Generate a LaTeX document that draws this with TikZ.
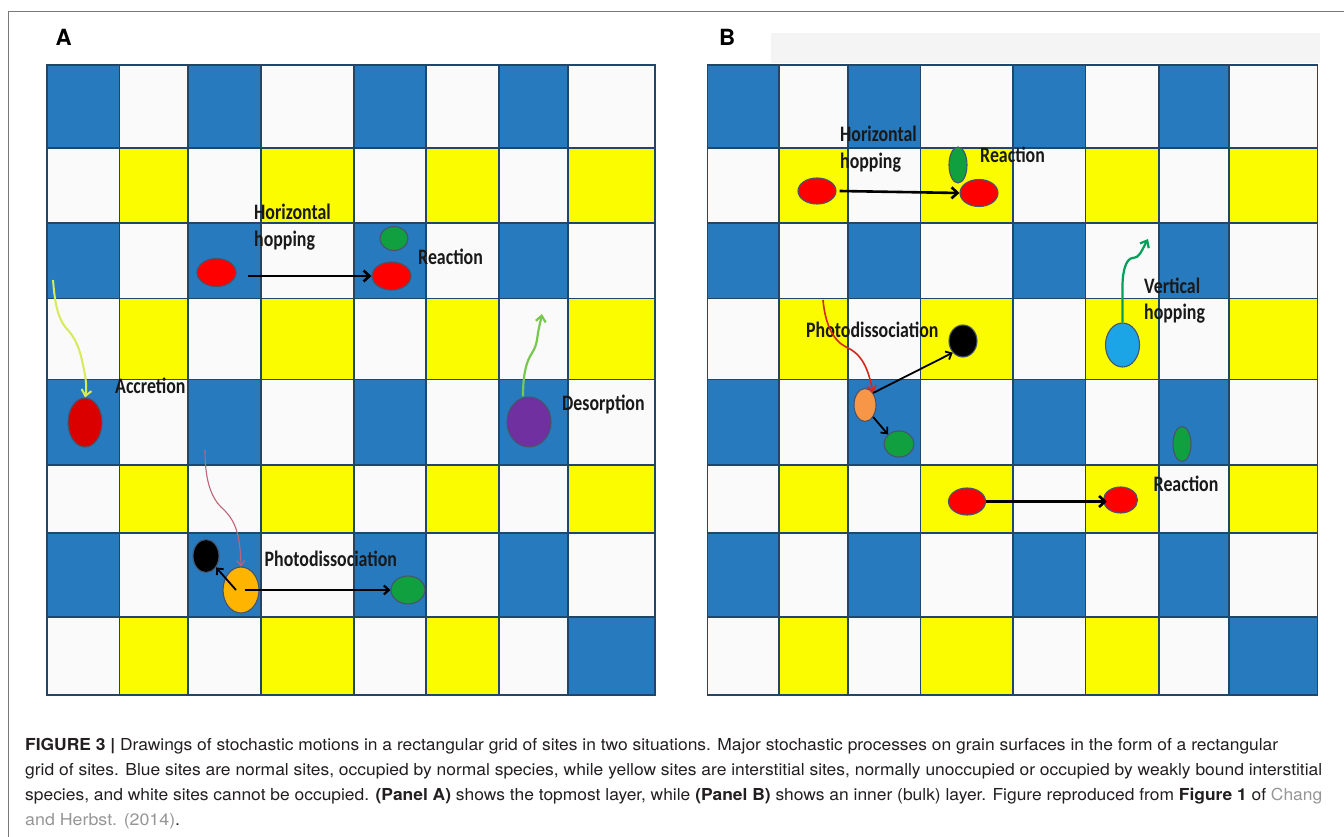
\documentclass[tikz,border=0pt]{standalone}
\usepackage{fontspec}
\usepackage{graphicx}
\setmainfont{TeX Gyre Heros}
\newfontfamily\calfont{Carlito}
\usetikzlibrary{arrows.meta,shapes.geometric,calc}
\definecolor{siteblue}{RGB}{40,122,190}
\definecolor{siteyellow}{RGB}{252,252,0}
\definecolor{sitewhite}{RGB}{250,250,250}
\definecolor{gridline}{RGB}{32,70,105}
\definecolor{molline}{RGB}{70,85,110}
\definecolor{molred}{RGB}{255,0,0}
\definecolor{accred}{RGB}{218,0,0}
\definecolor{molgreen}{RGB}{16,160,64}
\definecolor{molorangeA}{RGB}{255,180,0}
\definecolor{molorangeB}{RGB}{247,150,70}
\definecolor{molpurple}{RGB}{112,48,160}
\definecolor{molblue}{RGB}{28,165,230}
\definecolor{acccol}{RGB}{215,235,90}
\definecolor{descol}{RGB}{120,200,80}
\definecolor{vhcol}{RGB}{0,160,90}
\definecolor{pdAcol}{RGB}{190,100,120}
\definecolor{pdBcol}{RGB}{210,40,30}
\definecolor{framecol}{RGB}{120,120,120}
\definecolor{capgray}{RGB}{150,150,150}
\definecolor{captext}{RGB}{35,31,32}
\definecolor{topgray}{RGB}{244,244,244}
\newcommand\stretchlbl[1]{\scalebox{0.97}[1.2]{#1}}
\begin{document}
\begin{tikzpicture}[x=1pt,y=-1pt,
  site/.style={line width=1.6pt, draw=gridline},
  mol/.style={ellipse, inner sep=0pt, draw=molline, line width=1.1pt},
  lbl/.style={anchor=base west, inner sep=0pt, text=black!90, font=\calfont\bfseries\fontsize{18.4}{20}\selectfont},
  panel/.style={anchor=base west, inner sep=0pt, font=\bfseries\fontsize{22.3}{24}\selectfont},
  captxt/.style={anchor=base west, inner sep=0pt, text=captext, font=\fontsize{16.5}{18}\selectfont},
  hop/.style={line width=2.6pt, -{Straight Barb[length=6pt,width=11pt]}},
  pd/.style={line width=1.8pt, -{Straight Barb[length=5pt,width=9pt]}},
  accl/.style={line width=2pt, draw=acccol, -{Straight Barb[length=6pt,width=10pt]}},
  desl/.style={line width=2.2pt, draw=descol, -{Straight Barb[length=6pt,width=10pt]}},
  vhl/.style={line width=2.2pt, draw=vhcol, -{Straight Barb[length=6pt,width=10pt]}},
  pdAl/.style={line width=1.1pt, draw=pdAcol, -{Straight Barb[length=5pt,width=8pt]}},
  pdBl/.style={line width=1.6pt, draw=pdBcol, -{Straight Barb[length=6pt,width=9pt]}}
]
\useasboundingbox (0,0) rectangle (1344,837);
\fill[white] (0,0) rectangle (1344,837);
% frame
\draw[framecol, line width=1.5pt] (8.5,837) -- (8.5,11.5) -- (1344,11.5);
% light strip behind B
\fill[topgray] (771,33) rectangle (1320,63);
% panel letters
\node[panel] (labA) at (55.5,46) {A};
\node[panel] (labB) at (719,46) {B};
% grids
\foreach \cols in {{47/119.5,119.5/188,188/261,261/354,354/426,426/499,499/568,568/655},
                   {707.5/779,779/848,848/920.5,920.5/1013,1013/1085.5,1085.5/1159,1159/1229,1229/1317.5}}{
  \foreach \ya/\yb [count=\r] in {65/148,148/223,223/298.5,298.5/379.5,379.5/465,465/533,533/617,617/695}{
    \foreach \xa/\xb [count=\c] in \cols {
      \pgfmathtruncatemacro\kk{mod(\r,2)*10+mod(\c,2)}
      \ifnum\kk=11 \def\cc{siteblue}\else\ifnum\kk=0 \def\cc{siteyellow}\else\def\cc{sitewhite}\fi\fi
      \ifnum\r=8 \ifnum\c=8 \def\cc{siteblue}\fi\fi
      \filldraw[site, fill=\cc] (\xa,\ya) rectangle (\xb,\yb);
    }
  }
}
% ---------------- Panel A molecules
\node[mol, fill=molred, minimum width=39pt, minimum height=28pt] (redA1) at (216.5,272.5) {};
\node[mol, fill=molred, minimum width=39pt, minimum height=28pt] (redA2) at (391.5,276) {};
\node[mol, fill=molgreen, minimum width=28pt, minimum height=24pt] (greenA1) at (394,238.5) {};
\node[mol, fill=accred, minimum width=34pt, minimum height=49pt] (redAcc) at (85,422.5) {};
\node[mol, fill=molpurple, minimum width=44pt, minimum height=50pt] (purpleA) at (529,422) {};
\node[mol, fill=molorangeA, minimum width=36pt, minimum height=46pt] (orangeA) at (241,590) {};
\node[mol, fill=black, minimum width=26pt, minimum height=33pt] (blackA) at (206,556) {};
\node[mol, fill=molgreen, minimum width=34pt, minimum height=28pt] (greenA2) at (408,590) {};
% labels A
\node[lbl] (tHorA) at (254,220) {\stretchlbl{Horizontal}};
\node[lbl] (tHopA) at (254,247) {\stretchlbl{hopping}};
\node[lbl] (tReaA) at (418,265) {\stretchlbl{Reaction}};
\node[lbl] (tAccA) at (115,393) {\stretchlbl{Accretion}};
\node[lbl] (tDesA) at (562,410) {\stretchlbl{Desorption}};
\node[lbl] (tPhoA) at (264.5,566) {\stretchlbl{Photodissociation}};
% connectors A
\draw[hop] ([xshift=11pt]redA1.east |- redA2.west) -- (redA2.west);
\coordinate (accS) at (53,280);
\draw[accl] (accS) .. controls (55,305) and (58,318) .. (66,328)
  .. controls (76,338) and (80,350) .. (83,365)
  .. controls (86,378) and (87,388) .. (redAcc.north);
\coordinate (desE) at (542,314);
\draw[desl] ([xshift=-6pt]purpleA.north) .. controls (523,375) and (526,362) .. (532,353)
  .. controls (538,344) and (537,335) .. (539,328)
  .. controls (540,322) and (541,320) .. (desE);
\coordinate (pdAS) at (205,450);
\draw[pdAl] (pdAS) .. controls (205,478) and (210,496) .. (221,507)
  .. controls (234,519) and (240,530) .. (orangeA.north);
\draw[pd] ([xshift=-5pt]orangeA.center) -- (blackA);
\draw[pd, line width=2.2pt] ([xshift=4pt]orangeA.center) -- (greenA2.west);
% ---------------- Panel B molecules
\node[mol, fill=molred, minimum width=38pt, minimum height=26pt] (redB1) at (817,191) {};
\node[mol, fill=molred, minimum width=38pt, minimum height=27pt] (redB2) at (979,193) {};
\node[mol, fill=molgreen, minimum width=18pt, minimum height=36pt] (greenB1) at (958,165) {};
\node[mol, fill=molblue, minimum width=34pt, minimum height=44pt] (blueB) at (1122.5,345) {};
\node[mol, fill=black, minimum width=28pt, minimum height=32pt] (blackB) at (963,341) {};
\node[mol, fill=molorangeB, minimum width=22pt, minimum height=33pt] (orangeB) at (865,405) {};
\node[mol, fill=molgreen, minimum width=30pt, minimum height=26pt] (greenB2) at (899,444) {};
\node[mol, fill=molgreen, minimum width=18pt, minimum height=35pt] (greenB3) at (1182,444) {};
\node[mol, fill=molred, minimum width=37pt, minimum height=27pt] (redB3) at (967,501.5) {};
\node[mol, fill=molred, minimum width=34pt, minimum height=26pt] (redB4) at (1120.5,500) {};
% labels B
\node[lbl] (tHorB) at (840,142) {\stretchlbl{Horizontal}};
\node[lbl] (tHopB) at (840,169) {\stretchlbl{hopping}};
\node[lbl] (tReaB1) at (980,163) {\stretchlbl{Reaction}};
\node[lbl] (tVerB) at (1144,293) {\stretchlbl{Vertical}};
\node[lbl] (tHopB2) at (1144,319) {\stretchlbl{hopping}};
\node[lbl] (tPhoB) at (806,337) {\stretchlbl{Photodissociation}};
\node[lbl] (tReaB2) at (1153.5,491) {\stretchlbl{Reaction}};
% connectors B
\draw[hop] ([xshift=3pt]redB1.east) -- (redB2.west);
\draw[hop] (redB3.east) -- ([xshift=4pt]redB4.west |- redB3.east);
\coordinate (vhE) at (1148,239);
\draw[vhl] (blueB.north) -- ++(0,-36) .. controls ++(0,-18) and (1127,258) .. (1133,258)
  .. controls (1139,258) and (1141,252) .. (vhE);
\coordinate (pdBS) at (823,300);
\draw[pdBl] (pdBS) .. controls (825,322) and (832,340) .. (846,347)
  .. controls (862,354) and (868,368) .. (orangeB.north east);
\draw[pd] (orangeB.north east) -- (blackB.south west);
\draw[pd] (orangeB.south east) -- (greenB2.north west);
% ---------------- caption
\node[captxt] (cap1) at (25,750) {\resizebox{1253pt}{\height}{\textbf{FIGURE 3 |} Drawings of stochastic motions in a rectangular grid of sites in two situations. Major stochastic processes on grain surfaces in the form of a rectangular}};
\node[captxt] (cap2) at (25,775) {\resizebox{1297pt}{\height}{grid of sites. Blue sites are normal sites, occupied by normal species, while yellow sites are interstitial sites, normally unoccupied or occupied by weakly bound interstitial}};
\node[captxt] (cap3) at (25,800) {\resizebox{1297pt}{\height}{species, and white sites cannot be occupied. \textbf{(Panel A)} shows the topmost layer, while \textbf{(Panel B)} shows an inner (bulk) layer. Figure reproduced from \textbf{Figure 1} of {\color{capgray}Chang}}};
\node[captxt] (cap4) at (25,825) {\resizebox{155pt}{\height}{{\color{capgray}and Herbst. (2014)}.}};
\end{tikzpicture}
\end{document}
